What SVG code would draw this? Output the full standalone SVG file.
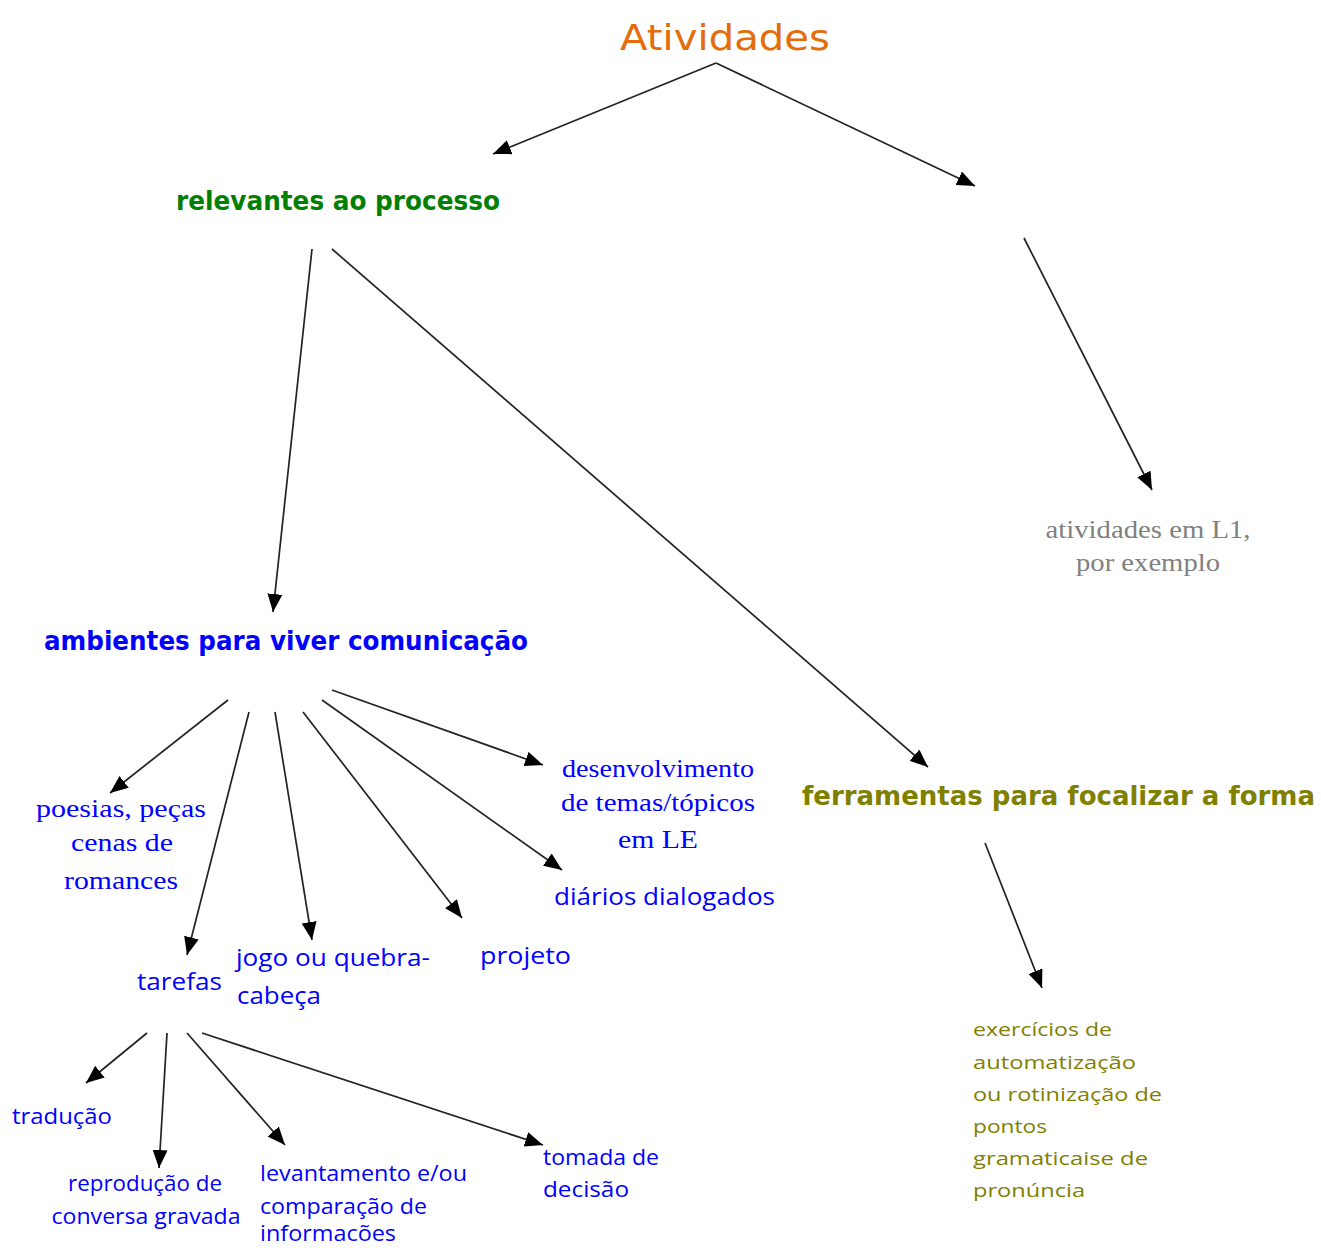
<svg xmlns="http://www.w3.org/2000/svg" width="1321" height="1248" viewBox="0 0 1321 1248">
<style>
.hd{font-family:"DejaVu Sans","Liberation Sans",sans-serif;font-weight:bold}
.sf{font-family:"Liberation Serif",serif}
.ss{font-family:"Open Sans","Liberation Sans",sans-serif}
.blue{fill:#0000FF}
.olive{fill:#808000}
.edge{stroke:#222;stroke-width:1.7;fill:none;marker-end:url(#ah)}
</style>
<defs>
<marker id="ah" markerUnits="userSpaceOnUse" markerWidth="19" markerHeight="15" refX="18" refY="7.5" orient="auto">
<path d="M0,0 L18,7.5 L0,15 z" fill="#000"/>
</marker>
</defs>
<rect width="1321" height="1248" fill="#fff"/>
<g id="connectors">
<path class="edge" d="M716,63 L493,154"/>
<path class="edge" d="M716,63 L975,186"/>
<path class="edge" d="M1024,238 L1152,490"/>
<path class="edge" d="M312,249 L273,612"/>
<path class="edge" d="M332,249 L928,767"/>
<path class="edge" d="M985,843 L1042,988"/>
<path class="edge" d="M228,700 L110,793"/>
<path class="edge" d="M249,712 L187,955"/>
<path class="edge" d="M275,712 L312,940"/>
<path class="edge" d="M303,712 L462,918"/>
<path class="edge" d="M322,700 L562,870"/>
<path class="edge" d="M332,690 L543,765"/>
<path class="edge" d="M147,1033 L86,1083"/>
<path class="edge" d="M167,1033 L159,1168"/>
<path class="edge" d="M187,1033 L285,1145"/>
<path class="edge" d="M202,1033 L543,1145"/>
</g>
<g id="atividades"><text x="620" y="50" font-family="DejaVu Sans, sans-serif" font-size="36" fill="#E46C0A" textLength="210" lengthAdjust="spacingAndGlyphs">Atividades</text></g>
<g id="relevantes"><text class="hd" x="176" y="210" font-size="26" fill="#008000" textLength="324" lengthAdjust="spacingAndGlyphs">relevantes ao processo</text></g>
<g id="atividades-l1"><text class="sf" font-size="26" fill="#808080" text-anchor="middle"><tspan x="1148" y="538" textLength="205" lengthAdjust="spacingAndGlyphs">atividades em L1,</tspan><tspan x="1148" y="571" textLength="144" lengthAdjust="spacingAndGlyphs">por exemplo</tspan></text></g>
<g id="ambientes"><text class="hd blue" x="44" y="650" font-size="26" textLength="484" lengthAdjust="spacingAndGlyphs">ambientes para viver comunicação</text></g>
<g id="ferramentas"><text class="hd olive" x="802" y="805" font-size="26" textLength="513" lengthAdjust="spacingAndGlyphs">ferramentas para focalizar a forma</text></g>
<g id="desenvolvimento"><text class="sf blue" font-size="25" text-anchor="middle"><tspan x="658" y="777" textLength="192" lengthAdjust="spacingAndGlyphs">desenvolvimento</tspan><tspan x="658" y="811" textLength="194" lengthAdjust="spacingAndGlyphs">de temas/tópicos</tspan><tspan x="658" y="848" textLength="80" lengthAdjust="spacingAndGlyphs">em LE</tspan></text></g>
<g id="poesias"><text class="sf blue" font-size="25" text-anchor="middle"><tspan x="121" y="817" textLength="170" lengthAdjust="spacingAndGlyphs">poesias, peças</tspan><tspan x="122" y="851" textLength="102" lengthAdjust="spacingAndGlyphs">cenas de</tspan><tspan x="121" y="889" textLength="114" lengthAdjust="spacingAndGlyphs">romances</tspan></text></g>
<g id="diarios"><text class="ss blue" x="554" y="905" font-size="24" textLength="221" lengthAdjust="spacingAndGlyphs">diários dialogados</text></g>
<g id="tarefas"><text class="ss blue" x="137" y="990" font-size="24" textLength="85" lengthAdjust="spacingAndGlyphs">tarefas</text></g>
<g id="jogo"><text class="ss blue" font-size="24"><tspan x="236" y="966" textLength="194" lengthAdjust="spacingAndGlyphs">jogo ou quebra-</tspan><tspan x="237" y="1004" textLength="84" lengthAdjust="spacingAndGlyphs">cabeça</tspan></text></g>
<g id="projeto"><text class="ss blue" x="480" y="964" font-size="24" textLength="91" lengthAdjust="spacingAndGlyphs">projeto</text></g>
<g id="traducao"><text class="ss blue" x="12" y="1124" font-size="21" textLength="100" lengthAdjust="spacingAndGlyphs">tradução</text></g>
<g id="reproducao"><text class="ss blue" font-size="21" text-anchor="middle"><tspan x="145" y="1191" textLength="154" lengthAdjust="spacingAndGlyphs">reprodução de</tspan><tspan x="146" y="1224" textLength="189" lengthAdjust="spacingAndGlyphs">conversa gravada</tspan></text></g>
<g id="levantamento"><text class="ss blue" font-size="21"><tspan x="260" y="1181" textLength="207" lengthAdjust="spacingAndGlyphs">levantamento e/ou</tspan><tspan x="260" y="1214" textLength="167" lengthAdjust="spacingAndGlyphs">comparação de</tspan><tspan x="260" y="1241" textLength="136" lengthAdjust="spacingAndGlyphs">informacões</tspan></text></g>
<g id="tomada"><text class="ss blue" font-size="21"><tspan x="543" y="1165" textLength="116" lengthAdjust="spacingAndGlyphs">tomada de</tspan><tspan x="543" y="1197" textLength="86" lengthAdjust="spacingAndGlyphs">decisão</tspan></text></g>
<g id="exercicios"><text class="ss olive" font-size="19"><tspan x="973" y="1036" textLength="139" lengthAdjust="spacingAndGlyphs">exercícios de</tspan><tspan x="973" y="1069" textLength="163" lengthAdjust="spacingAndGlyphs">automatização</tspan><tspan x="973" y="1101" textLength="189" lengthAdjust="spacingAndGlyphs">ou rotinização de</tspan><tspan x="973" y="1133" textLength="74" lengthAdjust="spacingAndGlyphs">pontos</tspan><tspan x="973" y="1165" textLength="175" lengthAdjust="spacingAndGlyphs">gramaticaise de</tspan><tspan x="973" y="1197" textLength="112" lengthAdjust="spacingAndGlyphs">pronúncia</tspan></text></g>
</svg>
